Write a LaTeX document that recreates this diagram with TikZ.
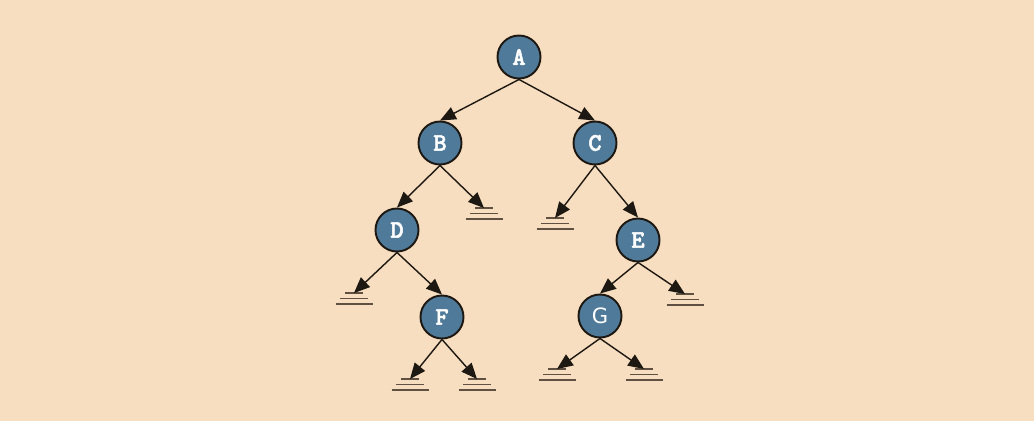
\documentclass[tikz,border=0pt]{standalone}
\usepackage{fontspec}
\newfontfamily\nodefont{lmmonolt10-bold.otf}[FakeBold=2]
\setsansfont{DejaVu Sans}
\usepackage{xcolor}
\usepackage{tikz}
\usetikzlibrary{arrows.meta}
\definecolor{peach}{RGB}{247,222,192}
\definecolor{nodeblue}{RGB}{79,122,153}
\definecolor{edgedark}{RGB}{30,24,18}
\definecolor{groundbrown}{RGB}{95,80,65}

\begin{document}
\begin{tikzpicture}[->, >={Triangle[length=9pt, width=7.5pt]}, main/.style = {circle, draw=edgedark, line width=1.1pt, fill=nodeblue, minimum size=8.6mm, inner sep=0pt, text=white, font=\nodefont\Large}, every edge/.append style={draw=edgedark, line width=0.8pt}, ground/.pic={\draw[-, groundbrown, line width=1pt] (-0.18,0) -- (0.18,0) (-0.28,-0.11) -- (0.28,-0.11) (-0.37,-0.22) -- (0.37,-0.22);}]

\fill[peach] (-10.38,1.14) rectangle (10.30,-7.28);

\filldraw[black] (0,0) node[main] (A) {A};
\filldraw[black] (-1.58,-1.72) node[main] (B) {B};
\filldraw[black] (1.52,-1.72) node[main] (C) {C};
\filldraw[black] (-2.44,-3.46) node[main] (D) {D};
\filldraw[black] (2.38,-3.66) node[main] (E) {E};
\filldraw[black] (-1.54,-5.20) node[main] (F) {F};
\filldraw[black] (1.62,-5.18) node[main, font=\sffamily\large] (G) {G};

% empty subtrees
\coordinate (gB) at (-0.70,-3.02);
\coordinate (gC) at (0.72,-3.22);
\coordinate (gD) at (-3.30,-4.72);
\coordinate (gE) at (3.32,-4.74);
\coordinate (gF1) at (-2.18,-6.44);
\coordinate (gF2) at (-0.84,-6.44);
\coordinate (gG1) at (0.76,-6.24);
\coordinate (gG2) at (2.50,-6.24);
\foreach \g in {gB,gC,gD,gE,gF1,gF2,gG1,gG2}
  \pic at (\g) {ground};

\path
 (A.south) edge (B.north)
 (A.south) edge (C.north)
 (B.south) edge (D.north)
 (B.south) edge (gB)
 (C.south) edge (gC)
 (C.south) edge (E.north)
 (D.south) edge (gD)
 (D.south) edge (F.north)
 (E.south) edge (G.north)
 (E.south) edge (gE)
 (F.south) edge (gF1)
 (F.south) edge (gF2)
 (G.south) edge (gG1)
 (G.south) edge (gG2);
\end{tikzpicture}
\end{document}
